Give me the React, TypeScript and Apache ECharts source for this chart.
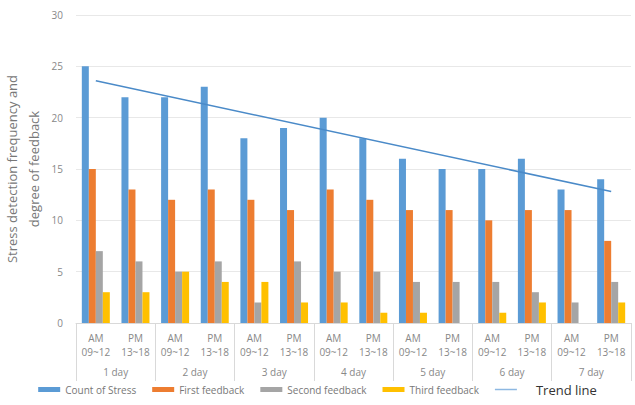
import React, { useEffect, useRef } from "react";
import * as echarts from "echarts";

const slots = ["AM\n09~12", "PM\n13~18", "AM\n09~12", "PM\n13~18", "AM\n09~12", "PM\n13~18", "AM\n09~12", "PM\n13~18", "AM\n09~12", "PM\n13~18", "AM\n09~12", "PM\n13~18", "AM\n09~12", "PM\n13~18"];
const days = ["1 day", "2 day", "3 day", "4 day", "5 day", "6 day", "7 day"];
const countOfStress = [25, 22, 22, 23, 18, 19, 20, 18, 16, 15, 15, 16, 13, 14];
const firstFeedback = [15, 13, 12, 13, 12, 11, 13, 12, 11, 11, 10, 11, 11, 8];
const secondFeedback = [7, 6, 5, 6, 2, 6, 5, 5, 4, 4, 4, 3, 2, 4];
const thirdFeedback = [3, 3, 5, 4, 4, 2, 2, 1, 1, 0, 1, 2, 0, 2];
const trendStart = 23.6;
const trendEnd = 12.8;
const yTicks = [0, 5, 10, 15, 20, 25, 30];

const FONT = "'Open Sans', 'Noto Sans', sans-serif";

export default function App() {
  const ref = useRef<HTMLDivElement>(null);
  useEffect(() => {
    if (!ref.current) return;
    const chart = echarts.init(ref.current, null, { renderer: "svg" });
    const trendData = slots.map((_, i) => (i === 0 ? trendStart : i === slots.length - 1 ? trendEnd : null));
    const barCommon = { type: "bar", barWidth: 7, barGap: "0%", xAxisIndex: 0 };
    chart.setOption({
      animation: false,
      textStyle: { fontFamily: FONT },
      grid: { left: 76, right: 4, top: 15, bottom: 82, outerBoundsMode: "none" },
      legend: {
        bottom: 4,
        left: "center",
        itemWidth: 22,
        itemHeight: 5,
        itemGap: 16,
        textStyle: { color: "#777", fontSize: 10, fontFamily: FONT },
        data: [
          { name: "Count of Stress", icon: "rect" },
          { name: "First feedback", icon: "rect" },
          { name: "Second feedback", icon: "rect" },
          { name: "Third feedback", icon: "rect" },
          {
            name: "Trend line",
            icon: "path://M0,0H22V1.5H0Z",
            itemStyle: { color: "#8DB8E2" },
            textStyle: { color: "#333", fontSize: 13, padding: [0, 0, 0, 14] },
          },
        ],
      },
      xAxis: [
        {
          type: "category",
          data: slots,
          position: "bottom",
          axisLine: { lineStyle: { color: "#d9d9d9" } },
          axisTick: { show: false },
          axisLabel: { color: "#888", fontSize: 10, lineHeight: 14, margin: 8, interval: 0 },
        },
        {
          type: "category",
          data: days,
          position: "bottom",
          axisLine: { show: false },
          axisTick: { show: true, length: 58, lineStyle: { color: "#d9d9d9" } },
          axisLabel: { color: "#888", fontSize: 10, margin: 44, interval: 0 },
        },
      ],
      yAxis: {
        type: "value",
        min: yTicks[0],
        max: yTicks[yTicks.length - 1],
        interval: 5,
        name: "Stress detection frequency and\ndegree of feedback",
        nameLocation: "middle",
        nameRotate: 90,
        nameGap: 31,
        nameMoveOverlap: false,
        nameTextStyle: { color: "#777", fontSize: 13, lineHeight: 22 },
        axisLine: { show: false },
        axisTick: { show: false },
        axisLabel: { color: "#888", fontSize: 10, margin: 13 },
        splitLine: { lineStyle: { color: "#e8e8e8" } },
      },
      series: [
        { ...barCommon, name: "Count of Stress", data: countOfStress, itemStyle: { color: "#5B9BD5" } },
        { ...barCommon, name: "First feedback", data: firstFeedback, itemStyle: { color: "#ED7D31" } },
        { ...barCommon, name: "Second feedback", data: secondFeedback, itemStyle: { color: "#A5A5A5" } },
        { ...barCommon, name: "Third feedback", data: thirdFeedback, itemStyle: { color: "#FFC000" } },
        {
          type: "line",
          name: "Trend line",
          xAxisIndex: 0,
          data: trendData,
          connectNulls: true,
          symbol: "none",
          lineStyle: { color: "#4A8AC8", width: 1.5 },
          itemStyle: { color: "#8DB8E2" },
        },
      ],
    });
    return () => chart.dispose();
  }, []);
  return <div ref={ref} style={{ position: "fixed", left: 0, top: 0, width: 635, height: 405, background: "#fff" }} />;
}
